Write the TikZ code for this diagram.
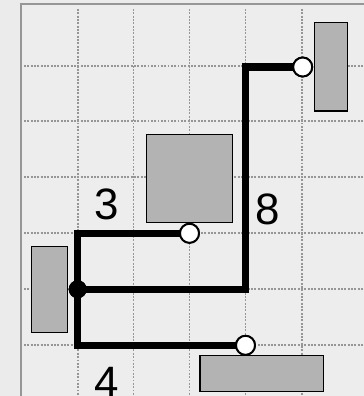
\documentclass[tikz,border=0pt]{standalone}
\usepackage{fontspec}
\setmainfont{Liberation Sans}
\usepackage{tikz}
\usetikzlibrary{positioning, calc}
\definecolor{outerbg}{RGB}{235, 235, 235}
\definecolor{panelbg}{RGB}{237, 237, 237}
\definecolor{framegray}{RGB}{150, 150, 150}
\definecolor{blockgray}{RGB}{179, 179, 179}

\begin{document}
\begin{tikzpicture}[x=0.02cm, y=-0.02cm,
			block/.style={rectangle, draw=black, line width=0.8pt, fill=blockgray, inner sep=0pt},
			pin/.style={circle, draw=black, line width=1.1pt, fill=white, minimum size=0.38cm, inner sep=0pt},
			joint/.style={circle, fill=black, minimum size=0.36cm, inner sep=0pt},
			wire/.style={line width=4pt, line join=miter},
			gridline/.style={framegray, line width=1.1pt, dash pattern=on 1.1pt off 0.8pt},
			digit/.style={font=\fontsize{25}{30}\selectfont, anchor=base, inner sep=0pt}
		]
		% Canvas and panel
		\useasboundingbox (0,0) rectangle (364,396);
		\fill[outerbg] (0,0) rectangle (364,396);
		\filldraw[fill=panelbg, draw=framegray, line width=1.1pt] (21,4) rectangle (372,404);
		
		% Dotted grid
		\foreach \gx in {77.7, 133.5, 189.5, 245.5, 301.7}
			\draw[gridline] (\gx,9) -- (\gx,396);
		\foreach \gy in {65.7, 121.3, 177.3, 233.3, 289.3, 345.3}
			\draw[gridline] (24,\gy) -- (364,\gy);
		
		% Components
		\node[block, minimum width=0.66cm, minimum height=1.77cm] (b_top) at (330.8,66.8) {};
		\node[block, minimum width=1.71cm, minimum height=1.76cm] (b_mid) at (189.5,178.7) {};
		\node[block, minimum width=0.71cm, minimum height=1.72cm] (b_left) at (49.5,289.7) {};
		\node[block, minimum width=2.47cm, minimum height=0.71cm] (b_low) at (261.7,373.5) {};
		
		% Pins and junction
		\node[pin] (p_top) at (302.7,67) {};
		\node[pin] (p_mid) at (189.5,233.3) {};
		\node[pin] (p_low) at (245.5,345.3) {};
		\node[joint] (junc) at (77.7,289.3) {};
		\coordinate (bend) at (245.5,67);
		
		% Wires
		\draw[wire] (p_top.center) -- (bend) |- (junc.center);
		\draw[wire] (p_mid.center) -| (junc.center) |- (p_low.center);
		\node[pin] at (p_top) {};
		\node[pin] at (p_mid) {};
		\node[pin] at (p_low) {};
		\node[joint] at (junc) {};
		
		% Lengths
		\node[digit] (n_three) at (107,219.8) {3};
		\node[digit] (n_eight) at (267.5,224.8) {8};
		\node[digit] (n_four) at (107,397.5) {4};
\end{tikzpicture}
\end{document}
